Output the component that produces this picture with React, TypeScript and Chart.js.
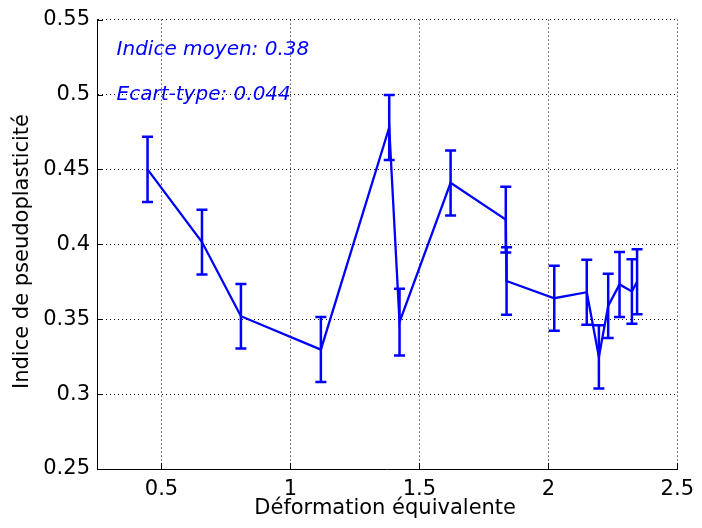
import React, { useEffect, useRef } from "react";
import { Chart, registerables } from "chart.js";

Chart.register(...registerables);

// Data
const deformation: number[] = [0.446, 0.657, 0.808, 1.118, 1.383, 1.423, 1.621, 1.835, 1.838, 2.023, 2.149, 2.196, 2.232, 2.276, 2.324, 2.344];
const indice: number[] = [0.450, 0.4015, 0.352, 0.3297, 0.478, 0.348, 0.441, 0.4165, 0.3755, 0.364, 0.368, 0.3248, 0.3589, 0.3732, 0.3685, 0.375];
const ecart: number[] = [0.0218, 0.0216, 0.0215, 0.0217, 0.0217, 0.0223, 0.0217, 0.0219, 0.0226, 0.0217, 0.0217, 0.0211, 0.0215, 0.0217, 0.0215, 0.0217];

const xTicks: number[] = [0.5, 1, 1.5, 2, 2.5];
const yTicks: number[] = [0.25, 0.3, 0.35, 0.4, 0.45, 0.5, 0.55];

const xTitle = "Déformation équivalente";
const yTitle = "Indice de pseudoplasticité";
const annotations: string[] = ["Indice moyen: 0.38", "Ecart-type: 0.044"];
const annotationX = 0.326;
const annotationY: number[] = [0.5262, 0.4966];

const BLUE = "#0000ff";
const FONT = "'DejaVu Sans', sans-serif";

const overlayPlugin = {
  id: "matlabOverlay",
  afterDatasetsDraw(chart: any) {
    const { ctx, chartArea, scales } = chart;
    const xs = scales.x;
    const ys = scales.y;
    ctx.save();
    // inward ticks
    ctx.strokeStyle = "#000";
    ctx.lineWidth = 1;
    ctx.beginPath();
    yTicks.forEach((v) => {
      const py = Math.round(ys.getPixelForValue(v)) + 0.5;
      ctx.moveTo(chartArea.left, py);
      ctx.lineTo(chartArea.left + 6, py);
    });
    xTicks.forEach((v) => {
      const px = Math.round(xs.getPixelForValue(v)) + 0.5;
      ctx.moveTo(px, chartArea.bottom);
      ctx.lineTo(px, chartArea.bottom - 6);
    });
    ctx.stroke();

    // error bars
    ctx.strokeStyle = BLUE;
    ctx.lineWidth = 2.5;
    ctx.beginPath();
    deformation.forEach((xv, i) => {
      const px = xs.getPixelForValue(xv);
      const top = ys.getPixelForValue(indice[i] + ecart[i]);
      const bot = ys.getPixelForValue(indice[i] - ecart[i]);
      ctx.moveTo(px, top);
      ctx.lineTo(px, bot);
      ctx.moveTo(px - 5.5, top);
      ctx.lineTo(px + 5.5, top);
      ctx.moveTo(px - 5.5, bot);
      ctx.lineTo(px + 5.5, bot);
    });
    ctx.stroke();

    // annotations
    ctx.fillStyle = BLUE;
    ctx.font = `italic 20px ${FONT}`;
    ctx.textAlign = "left";
    ctx.textBaseline = "alphabetic";
    annotations.forEach((t, i) => {
      ctx.fillText(t, xs.getPixelForValue(annotationX), ys.getPixelForValue(annotationY[i]));
    });

    // axis titles
    ctx.fillStyle = "#000";
    ctx.font = `21px ${FONT}`;
    ctx.textAlign = "center";
    ctx.fillText(xTitle, (chartArea.left + chartArea.right) / 2 - 2, 514);
    ctx.save();
    ctx.translate(28, 251.5);
    ctx.rotate(-Math.PI / 2);
    ctx.fillText(yTitle, 0, 0);
    ctx.restore();
    ctx.restore();
  },
};

export default function App() {
  const ref = useRef<HTMLCanvasElement | null>(null);
  useEffect(() => {
    if (!ref.current) return;
    const chart = new Chart(ref.current, {
      type: "line",
      data: {
        datasets: [
          {
            data: deformation.map((x, i) => ({ x, y: indice[i] })),
            borderColor: BLUE,
            backgroundColor: BLUE,
            borderWidth: 2.3,
            pointRadius: 0,
            tension: 0,
            fill: false,
          },
        ],
      },
      options: {
        responsive: false,
        animation: false,
        devicePixelRatio: 1,
        layout: { padding: { left: 0, right: 19, top: 19, bottom: 0 } },
        plugins: { legend: { display: false }, tooltip: { enabled: false } },
        scales: {
          x: {
            type: "linear",
            min: 0.25,
            max: 2.5,
            afterBuildTicks: (s: any) => {
              s.ticks = xTicks.map((v) => ({ value: v }));
            },
            afterFit: (s: any) => {
              s.height = 59;
            },
            ticks: {
              font: { family: FONT, size: 21 },
              color: "#000",
              padding: 8,
              maxRotation: 0,
              autoSkip: false,
              callback: (v: any) => String(v),
            },
            grid: { color: "#000", lineWidth: 1, drawTicks: false },
            border: { display: true, color: "#000", width: 1, dash: [1, 3] },
          },
          y: {
            type: "linear",
            min: 0.25,
            max: 0.55,
            afterBuildTicks: (s: any) => {
              s.ticks = yTicks.map((v) => ({ value: v }));
            },
            afterFit: (s: any) => {
              s.width = 97;
            },
            ticks: {
              font: { family: FONT, size: 21 },
              color: "#000",
              padding: 7,
              autoSkip: false,
              callback: (v: any) => String(v),
            },
            grid: { color: "#000", lineWidth: 1, drawTicks: false },
            border: { display: true, color: "#000", width: 1, dash: [1, 3] },
          },
        },
      },
      plugins: [overlayPlugin],
    });
    return () => chart.destroy();
  }, []);
  return (
    <div style={{ position: "absolute", left: 0, top: 0, width: 702, height: 528, background: "#fff" }}>
      <canvas ref={ref} width={702} height={528} style={{ display: "block" }} />
    </div>
  );
}
